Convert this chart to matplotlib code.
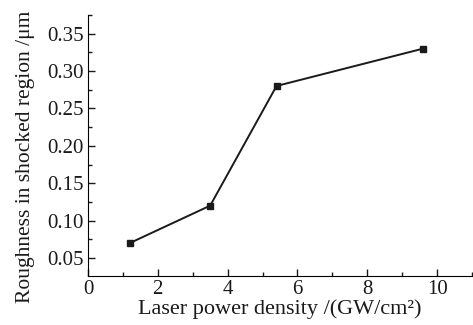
import matplotlib
import matplotlib.pyplot as plt
from matplotlib.ticker import MultipleLocator, FormatStrFormatter

matplotlib.rcParams["font.family"] = ["Liberation Serif", "DejaVu Serif"]

power_density = [1.2, 3.5, 5.4, 9.6]
roughness = [0.07, 0.12, 0.28, 0.33]

fig = plt.figure(figsize=(4.73, 3.25), dpi=100)
ax = fig.add_axes([0.186, 0.151, 0.812, 0.803])
ax.plot(power_density, roughness, color="#1a1a1a", lw=1.4,
        marker="s", ms=4.5, mfc="#1a1a1a", mec="#1a1a1a")

ax.set_xlim(0, 11)
ax.set_ylim(0.026, 0.375)
ax.xaxis.set_major_locator(MultipleLocator(2))
ax.xaxis.set_minor_locator(MultipleLocator(1))
ax.yaxis.set_major_locator(MultipleLocator(0.05))
ax.yaxis.set_minor_locator(MultipleLocator(0.025))
ax.yaxis.set_major_formatter(FormatStrFormatter("%.2f"))

for side in ("top", "right"):
    ax.spines[side].set_visible(False)
ax.tick_params(which="both", direction="in", labelsize=15, width=1, colors="#1a1a1a")
ax.tick_params(which="major", length=5, pad=3)
ax.tick_params(which="minor", length=3)

ax.set_xlabel("Laser power density /(GW/cm²)", fontsize=16, labelpad=0, color="#1a1a1a")
ax.set_ylabel("Roughness in shocked region /\u03bcm", fontsize=15.5, color="#1a1a1a")
ax.yaxis.set_label_coords(-0.137, 0.455)

fig.savefig("out.png", dpi=100)
